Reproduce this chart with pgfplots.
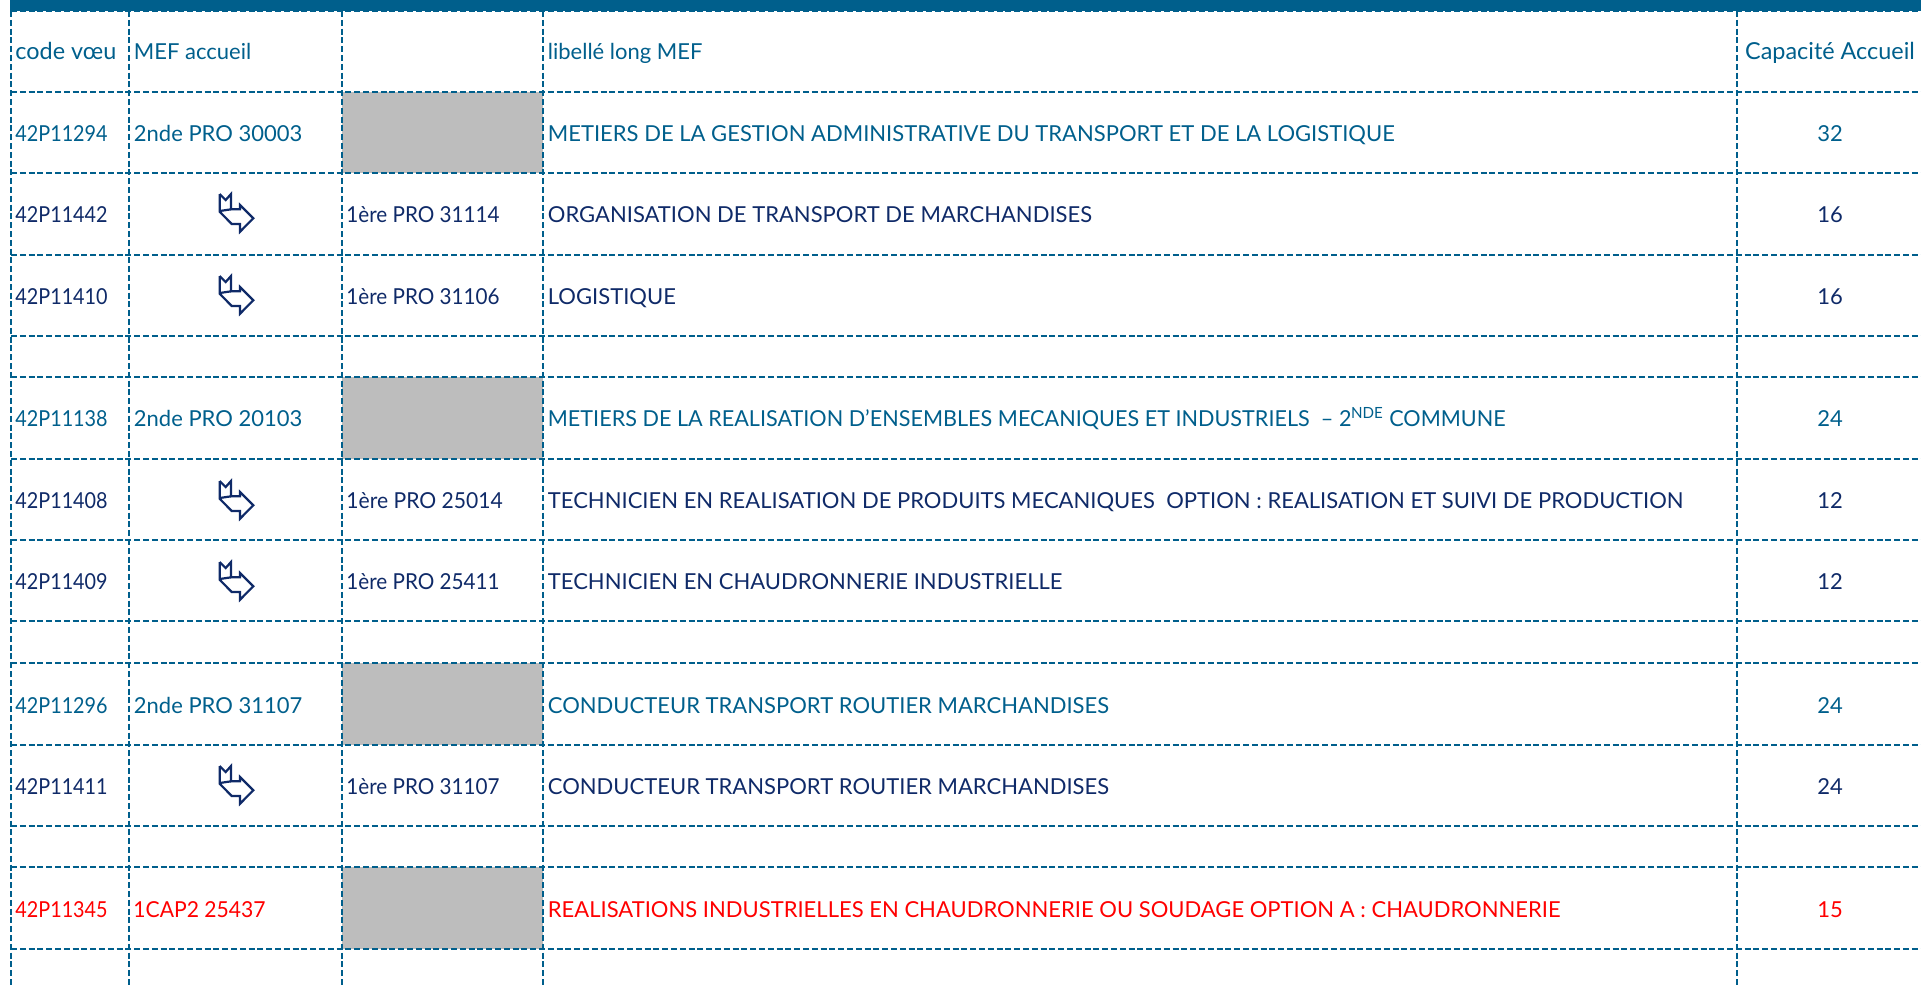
\documentclass[border=0pt]{standalone}
\usepackage{pgfplots}
\pgfplotsset{compat=1.18}
\usepackage{graphicx}
\usepackage{fontspec}
\setmainfont{Lato}
\definecolor{bleu}{HTML}{005F8C}
\definecolor{navy}{HTML}{0F2A68}
\definecolor{gris}{HTML}{BDBDBD}
\definecolor{rouge}{HTML}{FF0000}
\newcommand\T[4]{\node[anchor=base west,inner sep=0pt,text=#1,font=\fontsize{11}{12}\selectfont] at (axis cs:#2,#3) {#4};}
\newcommand\C[4]{\node[anchor=base,inner sep=0pt,text=#1,font=\fontsize{11}{12}\selectfont] at (axis cs:#2,#3) {#4};}
\newcommand\K[1]{\scalebox{0.9}[1]{#1}}
\newcommand\N[1]{\scalebox{0.94}[1]{#1}}
\newcommand\HH[1]{{\fontsize{11.7}{12}\selectfont #1}}
\pgfplotsset{
  grille/.style={no marks,color=bleu,line width=1.1pt,dash pattern=on 3pt off 1.4pt,forget plot},
  icone/.style={no marks,color=navy,line width=1.1pt,line join=miter,forget plot},
  cellule/.style={no marks,draw=none,fill=gris,forget plot},
}
\begin{document}
\begin{tikzpicture}
\begin{axis}[
  scale only axis,width=960.5pt,height=493.5pt,
  xmin=0,xmax=1921,ymin=0,ymax=987,y dir=reverse,
  hide axis,clip=true]
% bandeau
\addplot[no marks,draw=none,fill=bleu,forget plot] coordinates {(10,0)(1921,0)(1921,10.5)(10,10.5)} -- cycle;
% cellules grises
\addplot[cellule] coordinates {(342,92)(543,92)(543,173)(342,173)} -- cycle;
\addplot[cellule] coordinates {(342,377)(543,377)(543,459)(342,459)} -- cycle;
\addplot[cellule] coordinates {(342,663)(543,663)(543,745)(342,745)} -- cycle;
\addplot[cellule] coordinates {(342,867)(543,867)(543,949)(342,949)} -- cycle;
% grille
\pgfplotsinvokeforeach{11,92,173,255,336,377,459,540,621,663,745,826,867,949}{
  \addplot[grille] coordinates {(11,#1)(1921,#1)};
}
\pgfplotsinvokeforeach{11,128.7,342,543,1737}{
  \addplot[grille] coordinates {(#1,11)(#1,987)};
}
% icones
\addplot[icone] coordinates {(219.7,194)(225.7,200)(231,194)(231,209.3)(240,209.3)(240,205)(253.3,218.3)(240,231.7)(240,224)(231.7,224)(219.7,211.7)(219.7,194)};
\addplot[icone] coordinates {(219.7,211)(231,209.3)};
\addplot[icone] coordinates {(219.7,276)(225.7,282)(231,276)(231,291.3)(240,291.3)(240,287)(253.3,300.3)(240,313.7)(240,306)(231.7,306)(219.7,293.7)(219.7,276)};
\addplot[icone] coordinates {(219.7,293)(231,291.3)};
\addplot[icone] coordinates {(219.7,481)(225.7,487)(231,481)(231,496.3)(240,496.3)(240,492)(253.3,505.3)(240,518.7)(240,511)(231.7,511)(219.7,498.7)(219.7,481)};
\addplot[icone] coordinates {(219.7,498)(231,496.3)};
\addplot[icone] coordinates {(219.7,562)(225.7,568)(231,562)(231,577.3)(240,577.3)(240,573)(253.3,586.3)(240,599.7)(240,592)(231.7,592)(219.7,579.7)(219.7,562)};
\addplot[icone] coordinates {(219.7,579)(231,577.3)};
\addplot[icone] coordinates {(219.7,766)(225.7,772)(231,766)(231,781.3)(240,781.3)(240,777)(253.3,790.3)(240,803.7)(240,796)(231.7,796)(219.7,783.7)(219.7,766)};
\addplot[icone] coordinates {(219.7,783)(231,781.3)};
% en-tetes
\T{bleu}{15}{59}{\HH{code vœu}}
\T{bleu}{133.5}{59}{MEF accueil}
\T{bleu}{547.5}{59}{libellé long MEF}
\C{bleu}{1830}{59}{\HH{Capacité Accueil}}
% lignes
\T{bleu}{15}{141}{\K{42P11294}}\T{bleu}{133.5}{141}{2nde PRO 30003}
\T{bleu}{547.5}{141}{METIERS DE LA GESTION ADMINISTRATIVE DU TRANSPORT ET DE LA LOGISTIQUE}\C{bleu}{1830}{141}{32}
\T{navy}{15}{222}{\K{42P11442}}\T{navy}{346}{222}{\N{1ère PRO 31114}}
\T{navy}{547.5}{222}{ORGANISATION DE TRANSPORT DE MARCHANDISES}\C{navy}{1830}{222}{16}
\T{navy}{15}{304}{\K{42P11410}}\T{navy}{346}{304}{\N{1ère PRO 31106}}
\T{navy}{547.5}{304}{LOGISTIQUE}\C{navy}{1830}{304}{16}
\T{bleu}{15}{426}{\K{42P11138}}\T{bleu}{133.5}{426}{2nde PRO 20103}
\T{bleu}{547.5}{426}{\scalebox{0.982}[1]{METIERS DE LA REALISATION D’ENSEMBLES MECANIQUES ET INDUSTRIELS\ \ – 2\textsuperscript{NDE} COMMUNE}}\C{bleu}{1830}{426}{24}
\T{navy}{15}{508}{\K{42P11408}}\T{navy}{346}{508}{\scalebox{0.96}[1]{1ère PRO 25014}}
\T{navy}{547.5}{508}{TECHNICIEN EN REALISATION DE PRODUITS MECANIQUES\ \ OPTION : REALISATION ET SUIVI DE PRODUCTION}\C{navy}{1830}{508}{12}
\T{navy}{15}{589}{\K{42P11409}}\T{navy}{346}{589}{\N{1ère PRO 25411}}
\T{navy}{547.5}{589}{TECHNICIEN EN CHAUDRONNERIE INDUSTRIELLE}\C{navy}{1830}{589}{12}
\T{bleu}{15}{713}{\K{42P11296}}\T{bleu}{133.5}{713}{2nde PRO 31107}
\T{bleu}{547.5}{713}{CONDUCTEUR TRANSPORT ROUTIER MARCHANDISES}\C{bleu}{1830}{713}{24}
\T{navy}{15}{794}{\K{42P11411}}\T{navy}{346}{794}{\N{1ère PRO 31107}}
\T{navy}{547.5}{794}{CONDUCTEUR TRANSPORT ROUTIER MARCHANDISES}\C{navy}{1830}{794}{24}
\T{rouge}{15}{917}{\K{42P11345}}\T{rouge}{133}{917}{\scalebox{0.96}[1]{1CAP2 25437}}
\T{rouge}{547.5}{917}{REALISATIONS INDUSTRIELLES EN CHAUDRONNERIE OU SOUDAGE OPTION A : CHAUDRONNERIE}\C{rouge}{1830}{917}{15}
\end{axis}
\useasboundingbox (current axis.south west) rectangle (current axis.north east);
\end{tikzpicture}
\end{document}
